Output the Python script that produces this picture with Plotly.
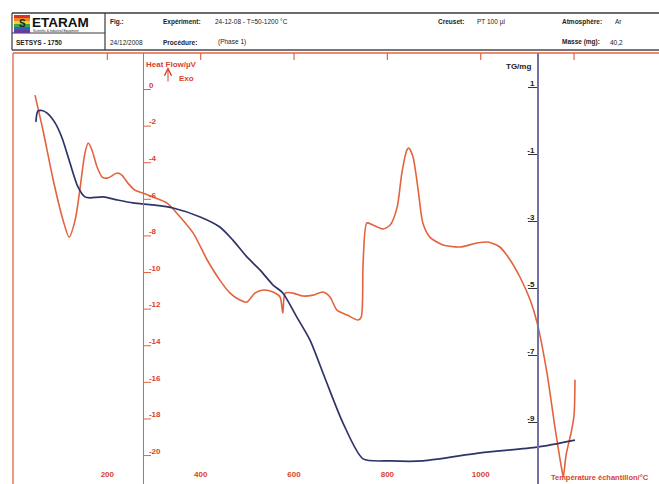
import plotly.graph_objects as go

# ---------------- data ----------------
hf_temp = [45, 62, 84, 105, 118, 131, 141, 152, 159, 167, 178, 189, 201, 221, 231, 244, 259, 276,
           298, 328, 356, 384, 414, 441, 463, 484, 499, 516, 534, 555, 570, 576, 581, 598, 619, 641,
           662, 677, 692, 714, 737, 744, 748, 756, 769, 791, 806, 821, 831, 842, 846, 855, 866, 876,
           891, 919, 956, 992, 1016, 1041, 1063, 1084, 1106, 1121, 1142, 1159, 1174, 1177, 1183,
           1194, 1200, 1202]
hf_val = [-0.55, -2.46, -5.19, -7.38, -8.31, -7.38, -5.74, -3.72, -3.17, -3.55, -4.48, -5.03, -5.08,
          -4.81, -4.92, -5.36, -5.74, -5.90, -6.12, -6.45, -7.21, -8.09, -9.56, -10.66, -11.37, -11.75,
          -11.86, -11.37, -11.20, -11.31, -11.58, -12.46, -11.37, -11.37, -11.53, -11.48, -11.31, -11.58,
          -12.30, -12.57, -12.84, -12.68, -9.73, -7.54, -7.65, -7.87, -7.65, -6.67, -4.81, -3.55, -3.44,
          -3.93, -5.74, -7.54, -8.31, -8.74, -8.85, -8.63, -8.58, -8.85, -9.56, -10.49, -11.75, -13.01,
          -15.74, -18.69, -21.04, -21.40, -20.20, -18.96, -18.03, -16.10]

tg_temp = [47, 51, 60, 71, 88, 103, 120, 137, 152, 163, 191, 221, 255, 298, 341, 399, 441, 469, 499,
           527, 555, 576, 606, 634, 666, 705, 748, 806, 876, 999, 1121, 1202]
tg_val = [-0.16, 0.16, 0.18, 0.10, -0.19, -0.64, -1.39, -2.10, -2.40, -2.43, -2.40, -2.49, -2.58, -2.64,
          -2.73, -3.00, -3.30, -3.69, -4.19, -4.58, -5.03, -5.27, -5.99, -6.67, -7.80, -9.15, -10.22,
          -10.28, -10.28, -10.04, -9.87, -9.66]

x_ticks = [200, 400, 600, 800, 1000]
x_top_ticks = [200, 400, 600, 800, 1000, 1200]
hf_ticks = [0, -2, -4, -6, -8, -10, -12, -14, -16, -18, -20]
tg_ticks = [1, -1, -3, -5, -7, -9]

# ---------------- styling ----------------
W, H = 659, 484
RED = "#e4633f"
RED_TXT = "#d8432c"
BLUE = "#2f3468"
TGAX = "#7471a6"
FONT = "Liberation Sans"
HF_RANGE = [-21.80, 1.749]
TG_RANGE = [-10.97, 1.896]
YDOM = [0, 1 - 53 / H]


def px(x):
    return x / W


def py(y):
    return 1 - y / H


fig = go.Figure()
fig.add_trace(go.Scatter(x=hf_temp, y=hf_val, mode="lines", yaxis="y",
                         line=dict(color=RED, width=1.6, shape="spline", smoothing=0.7),
                         hoverinfo="skip", showlegend=False))
fig.add_trace(go.Scatter(x=tg_temp, y=tg_val, mode="lines", yaxis="y2",
                         line=dict(color=BLUE, width=1.7, shape="spline", smoothing=0.7),
                         hoverinfo="skip", showlegend=False))

fig.update_layout(
    width=W, height=H, autosize=False,
    margin=dict(l=0, r=0, t=0, b=0, pad=0),
    paper_bgcolor="white", plot_bgcolor="white",
    font=dict(family=FONT),
    xaxis=dict(domain=[0, 1], range=[-30, 1382], showgrid=False, zeroline=False, showline=False,
               ticks="", tickvals=x_ticks, ticktext=[str(v) for v in x_ticks],
               ticklabelposition="inside", ticklabelstandoff=2,
               tickfont=dict(family=FONT, size=8, color=RED_TXT, weight="bold"), fixedrange=True),
    yaxis=dict(domain=YDOM, range=HF_RANGE, anchor="free", position=143 / W, side="right",
               showgrid=False, zeroline=False, showline=True, linecolor=RED, linewidth=1.3,
               ticks="", ticklabelstandoff=3,
               tickvals=hf_ticks, ticktext=[str(v) for v in hf_ticks],
               tickfont=dict(family=FONT, size=8, color=RED_TXT, weight="bold"), fixedrange=True),
    yaxis2=dict(domain=YDOM, range=TG_RANGE, overlaying="y", anchor="free", position=537 / W,
                side="left", showgrid=False, zeroline=False, showline=True, linecolor=TGAX, linewidth=1.5,
                ticks="", ticklabelstandoff=1,
                tickvals=tg_ticks, ticktext=[str(v) for v in tg_ticks],
                tickfont=dict(family=FONT, size=8, color="#222", weight="bold"), fixedrange=True),
)

# pixels per unit on each value axis (for the small underline tick offsets)
plot_h = H * (YDOM[1] - YDOM[0])
hf_ppu = plot_h / (HF_RANGE[1] - HF_RANGE[0])
tg_ppu = plot_h / (TG_RANGE[1] - TG_RANGE[0])

shapes = []
# underline-style ticks
for v in hf_ticks:
    yv = v - 4.5 / hf_ppu
    shapes.append(dict(type="line", xref="paper", yref="y", x0=px(144), x1=px(151), y0=yv, y1=yv,
                       line=dict(color=RED, width=1)))
for v in tg_ticks:
    yv = v - 4.5 / tg_ppu
    shapes.append(dict(type="line", xref="paper", yref="y2", x0=px(528), x1=px(537), y0=yv, y1=yv,
                       line=dict(color="#333", width=1)))
# red frame: top line and left line
shapes.append(dict(type="line", xref="paper", yref="paper", x0=px(13), x1=1, y0=py(53), y1=py(53),
                   line=dict(color=RED, width=1.3)))
shapes.append(dict(type="line", xref="paper", yref="paper", x0=px(13), x1=px(13), y0=py(53), y1=0,
                   line=dict(color=RED, width=1.3)))
for v in x_top_ticks:
    shapes.append(dict(type="line", xref="x", yref="paper", x0=v, x1=v, y0=py(53), y1=py(60),
                       line=dict(color=RED, width=1.2)))
# header box
HC = "#3a3a3a"
shapes.append(dict(type="line", xref="paper", yref="paper", x0=px(12), x1=1, y0=py(13), y1=py(13),
                   line=dict(color=HC, width=1.6)))
shapes.append(dict(type="line", xref="paper", yref="paper", x0=px(12), x1=1, y0=py(50), y1=py(50),
                   line=dict(color="#777", width=2)))
shapes.append(dict(type="line", xref="paper", yref="paper", x0=px(12), x1=px(12), y0=py(13), y1=py(50),
                   line=dict(color=HC, width=1.2)))
shapes.append(dict(type="line", xref="paper", yref="paper", x0=px(105), x1=px(105), y0=py(13), y1=py(50),
                   line=dict(color=HC, width=1.2)))
shapes.append(dict(type="line", xref="paper", yref="paper", x0=px(12), x1=px(105), y0=py(33), y1=py(33),
                   line=dict(color=HC, width=1.2)))
# logo rainbow block
logo_cols = ["#d8342c", "#ee8a22", "#f2d22a", "#3aa64a", "#2f62b8", "#6b3a9a"]
for i, c in enumerate(logo_cols):
    shapes.append(dict(type="rect", xref="paper", yref="paper", x0=px(14), x1=px(30),
                       y0=py(15 + i * 3), y1=py(18 + i * 3), line=dict(width=0), fillcolor=c))
fig.update_layout(shapes=shapes)

ann = []


def text(x, y, s, size=6.5, color="#222", bold=False, xanchor="left"):
    ann.append(dict(xref="paper", yref="paper", x=px(x), y=py(y), text=s, showarrow=False,
                    xanchor=xanchor, yanchor="middle", borderpad=0,
                    font=dict(family=FONT, size=size, color=color, weight="bold" if bold else "normal")))


text(31, 22.5, "ETARAM", size=13.5, color="#111", bold=True)
text(18, 23, "S", size=10, color="#222", bold=True)
text(32, 31, "Scientific & Industrial Equipment", size=3.2, color="#222")
text(15, 42, "SETSYS - 1750", size=6.5, bold=True)
text(109, 22, "Fig.:", size=6.5, bold=True)
text(109, 42, "24/12/2008", size=6.5)
text(162, 22, "Expériment:", size=6.5, bold=True)
text(214, 22, "24-12-08 - T=50-1200 °C", size=6.5)
text(162, 42, "Procédure:", size=6.5, bold=True)
text(217, 42, "(Phase 1)", size=6.5)
text(437, 22, "Creuset:", size=6.5, bold=True)
text(476, 22, "PT 100 µl", size=6.5)
text(561, 22, "Atmosphère:", size=6.5, bold=True)
text(614, 22, "Ar", size=6.5)
text(561, 42, "Masse (mg):", size=6.5, bold=True)
text(609, 42, "40,2", size=6.5)

text(145, 65, "Heat Flow/µV", size=8, color=RED_TXT, bold=True)
text(178, 79, "Exo", size=8, color=RED_TXT, bold=True)
text(505, 66, "TG/mg", size=8, color="#222", bold=True)
text(550, 477, "Température échantillon/°C", size=7.5, color=RED_TXT, bold=True)

# Exo arrow
ann.append(dict(xref="paper", yref="paper", x=px(168), y=py(67), ax=0, ay=16, axref="pixel", ayref="pixel",
                text="", showarrow=True, arrowhead=5, arrowsize=1.4, arrowwidth=1, arrowcolor=RED_TXT))
fig.update_layout(annotations=ann)

fig.write_html("out.html", config={"displayModeBar": False, "staticPlot": True},
               post_script="document.body.style.margin='0';document.body.style.padding='0';")
